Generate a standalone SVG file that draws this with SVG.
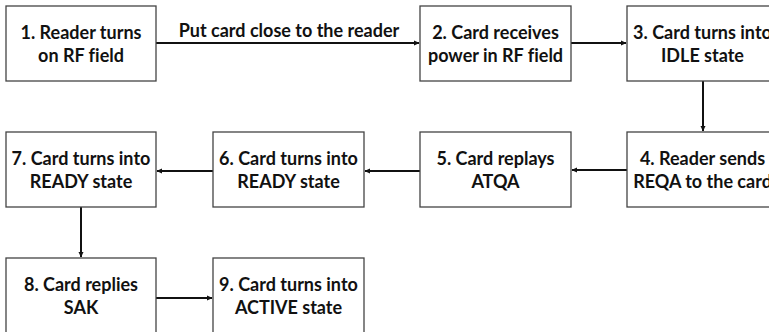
<svg xmlns="http://www.w3.org/2000/svg" width="769" height="332" viewBox="0 0 769 332">
<defs>
<marker id="ah" markerWidth="6" markerHeight="6" refX="5" refY="3" orient="auto" markerUnits="userSpaceOnUse">
<path d="M0,0.5 L5.5,3 L0,5.5 Z" fill="#111"/>
</marker>
</defs>
<style>
.box{fill:#fff;stroke:#444;stroke-width:1.3}
.t{font-family:Lato,"Liberation Sans",sans-serif;font-weight:bold;font-size:18px;fill:#111;text-anchor:middle;font-variant-ligatures:none}
.c{stroke:#111;stroke-width:2;fill:none;marker-end:url(#ah)}
</style>
<rect width="769" height="332" fill="#fff"/>
<g id="connectors">
<line class="c" x1="156" y1="43" x2="419" y2="43"/>
<text class="t" x="289" y="37">Put card close to the reader</text>
<line class="c" x1="571" y1="43" x2="626" y2="43"/>
<line class="c" x1="703" y1="81" x2="703" y2="131"/>
<line class="c" x1="627" y1="170" x2="572" y2="170"/>
<line class="c" x1="420" y1="171" x2="365" y2="171"/>
<line class="c" x1="213" y1="171" x2="157" y2="171"/>
<line class="c" x1="81" y1="207" x2="81" y2="257"/>
<line class="c" x1="156" y1="298" x2="212" y2="298"/>
</g>
<g id="n1"><rect class="box" x="6" y="6" width="150" height="75"/><text class="t" x="81" y="39">1. Reader turns</text><text class="t" x="81" y="62">on RF field</text></g>
<g id="n2"><rect class="box" x="420" y="6" width="151" height="75"/><text class="t" x="495.5" y="39">2. Card receives</text><text class="t" x="495.5" y="62">power in RF field</text></g>
<g id="n3"><rect class="box" x="627" y="6" width="151" height="75"/><text class="t" x="702.5" y="39">3. Card turns into</text><text class="t" x="702.5" y="62">IDLE state</text></g>
<g id="n4"><rect class="box" x="627" y="132" width="151" height="75"/><text class="t" x="702.5" y="165">4. Reader sends</text><text class="t" x="702.5" y="188">REQA to the card</text></g>
<g id="n5"><rect class="box" x="420" y="132" width="151" height="75"/><text class="t" x="495.5" y="165">5. Card replays</text><text class="t" x="495.5" y="188">ATQA</text></g>
<g id="n6"><rect class="box" x="213" y="132" width="151" height="75"/><text class="t" x="288.5" y="165">6. Card turns into</text><text class="t" x="288.5" y="188">READY state</text></g>
<g id="n7"><rect class="box" x="6" y="132" width="150" height="75"/><text class="t" x="81" y="165">7. Card turns into</text><text class="t" x="81" y="188">READY state</text></g>
<g id="n8"><rect class="box" x="6" y="258" width="150" height="80"/><text class="t" x="81" y="291">8. Card replies</text><text class="t" x="81" y="314">SAK</text></g>
<g id="n9"><rect class="box" x="213" y="258" width="151" height="80"/><text class="t" x="288.5" y="291">9. Card turns into</text><text class="t" x="288.5" y="314">ACTIVE state</text></g>
</svg>
